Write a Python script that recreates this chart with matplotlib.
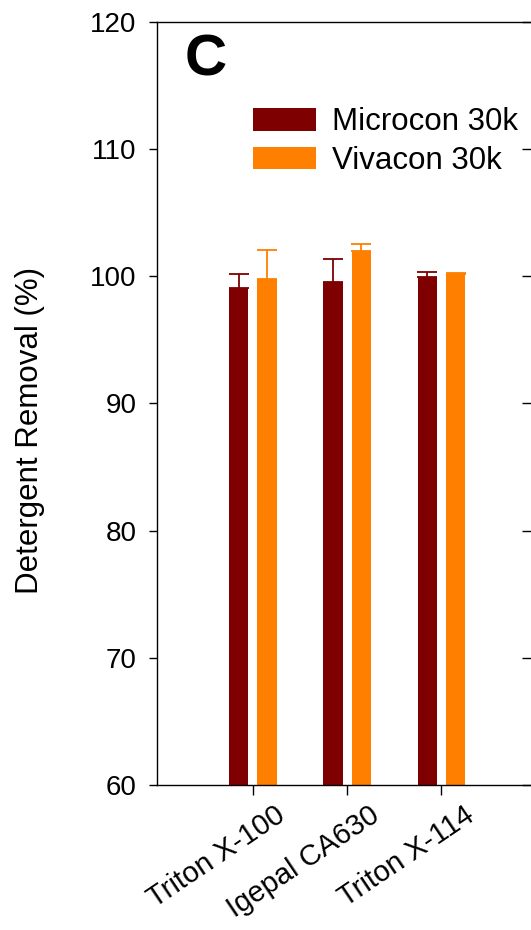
import matplotlib
matplotlib.use("Agg")
import matplotlib.pyplot as plt
import matplotlib.transforms as mtransforms
import matplotlib.lines as mlines
import numpy as np

plt.rcParams['font.family'] = ['Liberation Sans', 'DejaVu Sans']

categories = ["Triton X-100", "Igepal CA630", "Triton X-114"]
microcon = [99.05, 99.52, 99.91]
microcon_err = [1.12, 1.81, 0.40]
vivacon = [99.78, 101.98, 100.20]
vivacon_err = [2.28, 0.55, 0.05]
yticks = [60, 70, 80, 90, 100, 110, 120]

W, H = 531, 930
fig = plt.figure(figsize=(W / 100, H / 100), dpi=100)
left_px, right_px, top_px, bot_px = 157.3, 532.0, 21.7, 785.0
ax = fig.add_axes([left_px / W, 1 - bot_px / H, (right_px - left_px) / W, (bot_px - top_px) / H])

c1 = "#7f0000"
c2 = "#ff8000"
x = np.arange(len(categories))
off = 0.15
w = 0.204
zeros = np.zeros(len(categories))
ax.bar(x - off, microcon, w, color=c1, label="Microcon 30k", zorder=2)
ax.bar(x + off, vivacon, w, color=c2, label="Vivacon 30k", zorder=2)
ax.errorbar(x - off, microcon, yerr=[zeros, microcon_err], fmt='none', ecolor=c1,
            elinewidth=1.3, capsize=7.5, capthick=1.3, zorder=3)
ax.errorbar(x + off, vivacon, yerr=[zeros, vivacon_err], fmt='none', ecolor=c2,
            elinewidth=1.3, capsize=7.5, capthick=1.3, zorder=3)

ax.set_ylim(60, 120)
ax.set_xlim(-1.014, 2.961)
ax.set_yticks(yticks)
ax.set_yticklabels([str(v) for v in yticks], fontsize=20)
ax.set_xticks(x)
ax.set_xticklabels([])

# rotated category labels, anchored at their top-right corner
lab_tr = ax.get_xaxis_transform() + mtransforms.ScaledTranslation(22 / 100, -16 / 100, fig.dpi_scale_trans)
for xi, name in zip(x, categories):
    ax.text(xi, 0, name, transform=lab_tr, fontsize=21, rotation=34,
            ha='right', va='top', rotation_mode='anchor', clip_on=False)

for s in ax.spines.values():
    s.set_linewidth(1.0)
ax.tick_params(axis='y', which='major', left=True, right=True, direction='out',
               length=6, width=1.0, pad=8.9)
for t in ax.yaxis.get_major_ticks():
    t.tick2line.set_marker(mlines.TICKLEFT)
    t.tick2line.set_markersize(7)
ax.tick_params(axis='x', length=7.5, width=1.0)

fig.text(30 / W, 1 - 430 / H, "Detergent Removal (%)", rotation=90, fontsize=22.5,
         ha='center', va='center')
fig.text(185 / W, 1 - 75 / H, "C", fontsize=42, fontweight='bold', ha='left', va='baseline')

ax.legend(loc='upper left', bbox_to_anchor=(253.3 / W, 1 - 107.5 / H),
          bbox_transform=fig.transFigure, frameon=False, fontsize=22.5,
          handlelength=2.0, handleheight=0.72, handletextpad=0.53,
          labelspacing=0.28, borderpad=0, borderaxespad=0)

fig.savefig("out.png", dpi=100)
